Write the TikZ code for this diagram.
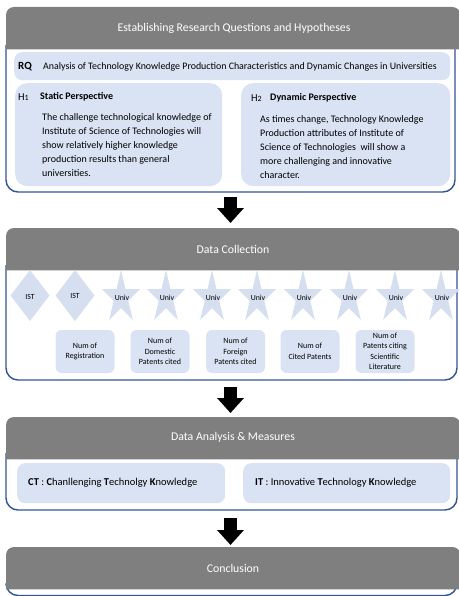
\documentclass[tikz,border=0pt]{standalone}
\usepackage{fontspec}
\setmainfont{Carlito}
\usetikzlibrary{arrows.meta}
\definecolor{hdrgray}{HTML}{7F7F7F}
\definecolor{boxblue}{HTML}{DAE3F3}
\definecolor{starblue}{HTML}{D6DFF0}
\definecolor{frameblue}{HTML}{2F5597}

% a vertically stretched five-pointed star at #1,#2 (y grows downwards)
\newcommand\univstar[2]{%
  \fill[starblue,shift={(#1,#2)},xscale=0.73]
    (270:27.6) -- (306:10.5) -- (342:27.6) -- (18:10.5) -- (54:27.6)
    -- (90:10.5) -- (126:27.6) -- (162:10.5) -- (198:27.6) -- (234:10.5) -- cycle;}

\begin{document}
\begin{tikzpicture}[x=1pt,y=-1pt,
  hdrtext/.style={text=white,font=\fontsize{11.8}{13}\selectfont,inner sep=0pt},
  hdrbox/.style={minimum width=454pt,minimum height=42pt,anchor=north west,inner sep=0pt},
  frame/.style={draw=frameblue,line width=1.4pt,rounded corners=12pt},
  panel/.style={fill=boxblue,rounded corners=8pt,anchor=north west,inner sep=0pt},
  numbox/.style={fill=boxblue,rounded corners=6pt,minimum width=59pt,minimum height=43pt,
    inner sep=0pt,align=center,font=\fontsize{8}{10.5}\selectfont},
  body/.style={anchor=north west,inner sep=0pt,align=left,font=\fontsize{10}{14}\selectfont},
  shapelabel/.style={inner sep=0pt,font=\fontsize{7.8}{9}\selectfont},
  bigarrow/.style={line width=13pt,-{Triangle[width=26pt,length=15pt]}},
]
\useasboundingbox (0,0) rectangle (458,596);

% ---------- stage 1: research questions and hypotheses ----------
\draw[frame] (6,45) -- (6,192) -- (455,192) -- (455,45);
\node[hdrbox] (h1) at (6,7) {};
\fill[hdrgray] (h1.south west) {[rounded corners=8pt] -- (h1.north west) -- (h1.north east)} -- (h1.south east) -- cycle;
\node[hdrtext] (t1) at (234,28) {Establishing Research Questions and Hypotheses};

\node[panel,minimum width=436pt,minimum height=28pt] (rq) at (14,52) {};
\node[anchor=base west,inner sep=0pt,font=\fontsize{11}{13}\selectfont\bfseries] (rqtag) at (18,70) {RQ};
\node[anchor=base west,inner sep=0pt,font=\fontsize{9.9}{12}\selectfont] (rqtext) at (43,69.5)
  {Analysis of Technology Knowledge Production Characteristics and Dynamic Changes in Universities};

\node[panel,minimum width=207pt,minimum height=103pt,rounded corners=12pt] (p1) at (15,83) {};
\node[anchor=base west,inner sep=0pt,font=\fontsize{10.5}{12}\selectfont] (h1tag) at (18,101) {H{\fontsize{8}{9}\selectfont 1}};
\node[anchor=base west,inner sep=0pt,font=\fontsize{10}{12}\selectfont\bfseries] (h1head) at (40,100) {Static Perspective};
\node[body] (h1body) at (42,113) {The challenge technological knowledge of\\Institute of Science of Technologies will\\show relatively higher knowledge\\production results than general\\universities.};

\node[panel,minimum width=209pt,minimum height=103pt,rounded corners=12pt] (p2) at (241,83) {};
\node[anchor=base west,inner sep=0pt,font=\fontsize{10.5}{12}\selectfont] (h2tag) at (251,102) {H{\fontsize{8}{9}\selectfont 2}};
\node[anchor=base west,inner sep=0pt,font=\fontsize{10}{12}\selectfont\bfseries] (h2head) at (270,101) {Dynamic Perspective};
\node[body] (h2body) at (260,115) {As times change, Technology Knowledge\\Production attributes of Institute of\\Science of Technologies \ will show a\\more challenging and innovative\\character.};

% ---------- stage 2: data collection ----------
\draw[frame] (6,265) -- (6,380) -- (457,380) -- (457,265);
\node[hdrbox] (h2) at (6,228) {};
\fill[hdrgray] (h2.south west) {[rounded corners=8pt] -- (h2.north west) -- (h2.north east)} -- (h2.south east) -- cycle;
\node[hdrtext] (t2) at (233,249) {Data Collection};

\fill[starblue] (30,270) -- (49.5,295.5) -- (30,321) -- (10.5,295.5) -- cycle;
\fill[starblue] (75,270) -- (94.5,295.5) -- (75,321) -- (55.5,295.5) -- cycle;
\node[shapelabel] (ist1) at (30,297) {IST};
\node[shapelabel] (ist2) at (75,296) {IST};
\foreach \cx/\nm in {121/u1,166/u2,212/u3,257/u4,303/u5,349/u6,395/u7,441/u8}{
  \univstar{\cx}{297.6}
  \node[shapelabel] (\nm) at (\cx+1,298) {Univ};
}

\node[numbox] (n1) at (85,351.5) {Num of\\Registration};
\node[numbox] (n2) at (160,351.5) {Num of\\Domestic\\Patents cited};
\node[numbox] (n3) at (235.5,351.5) {Num of\\Foreign\\Patents cited};
\node[numbox] (n4) at (310,351.5) {Num of\\Cited Patents};
\node[numbox] (n5) at (385,351.5) {Num of\\Patents citing\\Scientific\\Literature};

% ---------- stage 3: analysis and measures ----------
\draw[frame] (6,453) -- (6,510) -- (457,510) -- (457,453);
\node[hdrbox] (h3) at (6,417) {};
\fill[hdrgray] (h3.south west) {[rounded corners=8pt] -- (h3.north west) -- (h3.north east)} -- (h3.south east) -- cycle;
\node[hdrtext] (t3) at (233,437.5) {Data Analysis \& Measures};

\node[panel,minimum width=208pt,minimum height=40pt] (ct) at (17,463) {};
\node[anchor=west,inner sep=0pt,font=\fontsize{10.5}{12}\selectfont] (cttext) at (28,483)
  {\textbf{CT} : \textbf{C}hanllenging \textbf{T}echnolgy \textbf{K}nowledge};
\node[panel,minimum width=207pt,minimum height=40pt] (it) at (243,463) {};
\node[anchor=west,inner sep=0pt,font=\fontsize{10.5}{12}\selectfont] (ittext) at (255,483)
  {\textbf{IT} : Innovative \textbf{T}echnology \textbf{K}nowledge};

% ---------- stage 4: conclusion ----------
\draw[frame] (6,585) -- (6,595.5) -- (457,595.5) -- (457,585);
\node[hdrbox] (h4) at (6,547) {};
\fill[hdrgray] (h4.south west) {[rounded corners=8pt] -- (h4.north west) -- (h4.north east)} -- (h4.south east) -- cycle;
\node[hdrtext] (t4) at (233,568) {Conclusion};

% ---------- block arrows between the stages ----------
\coordinate (a1s) at (230.5,197);
\coordinate (a1e) at (230.5,223);
\coordinate (a2s) at (230.5,387);
\coordinate (a2e) at (230.5,413);
\coordinate (a3s) at (230.5,518);
\coordinate (a3e) at (230.5,545);
\draw[bigarrow] (a1s) -- (a1e);
\draw[bigarrow] (a2s) -- (a2e);
\draw[bigarrow] (a3s) -- (a3e);
\end{tikzpicture}
\end{document}
